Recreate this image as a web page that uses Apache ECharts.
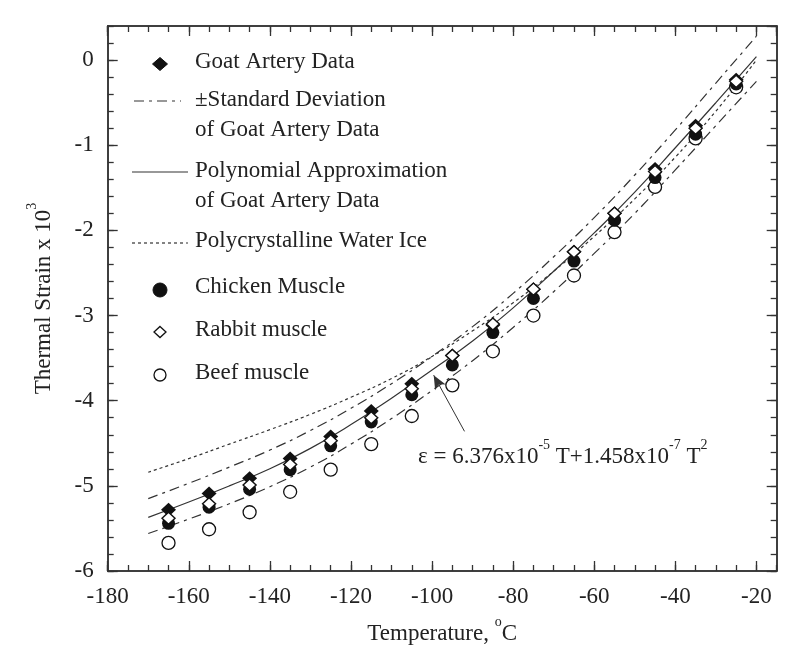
<!DOCTYPE html>
<html>
<head>
<meta charset="utf-8">
<script src="https://cdn.jsdelivr.net/npm/echarts@6/dist/echarts.min.js"></script>
<style>
html,body{margin:0;padding:0;background:#fff;}
#chart{width:800px;height:664px;}
</style>
</head>
<body>
<div id="chart"></div>
<script>
// Measured temperatures (°C)
const temps = [-165,-155,-145,-135,-125,-115,-105,-95,-85,-75,-65,-55,-45,-35,-25];
// Thermal strain x 10^3
const goat    = [-5.28,-5.09,-4.91,-4.68,-4.42,-4.12,-3.80,-3.47,-3.11,-2.69,-2.25,-1.80,-1.28,-0.77,-0.23];
const chicken = [-5.44,-5.25,-5.04,-4.81,-4.53,-4.25,-3.93,-3.58,-3.20,-2.80,-2.36,-1.88,-1.38,-0.87,-0.28];
const rabbit  = [-5.38,-5.21,-4.99,-4.75,-4.47,-4.20,-3.86,-3.47,-3.10,-2.69,-2.25,-1.80,-1.31,-0.80,-0.25];
const beef    = [-5.67,-5.51,-5.31,-5.07,-4.81,-4.51,-4.18,-3.82,-3.42,-3.00,-2.53,-2.02,-1.49,-0.92,-0.32];

// Curves, read at 10 °C steps
const curveT  = [-170,-160,-150,-140,-130,-120,-110,-100,-90,-80,-70,-60,-50,-40,-30,-20];
const poly    = [-5.37,-5.19,-5.00,-4.80,-4.56,-4.28,-3.97,-3.64,-3.30,-2.91,-2.48,-2.03,-1.55,-1.03,-0.50,0.04];
const sdUpper = [-5.15,-4.97,-4.78,-4.58,-4.35,-4.09,-3.80,-3.48,-3.13,-2.74,-2.31,-1.85,-1.35,-0.82,-0.27,0.28];
const sdLower = [-5.56,-5.39,-5.21,-5.01,-4.78,-4.51,-4.21,-3.88,-3.53,-3.14,-2.72,-2.27,-1.80,-1.29,-0.77,-0.25];
const ice     = [-4.84,-4.68,-4.51,-4.34,-4.16,-3.96,-3.74,-3.48,-3.18,-2.85,-2.48,-2.07,-1.63,-1.14,-0.60,0.00];

const xMin = -180, xMax = -15, yMin = -6, yMax = 0.4;

const pair = (xs, ys) => xs.map((x, i) => [x, ys[i]]);

const FONT = 'Liberation Serif';
const TXT = '#222';
const INK = '#111';
const LINE = '#333';
const FS = 23;

const axisLine = {show: true, onZero: false, lineStyle: {color: LINE, width: 1.5}};

function xAx(pos, major) {
  return {
    type: 'value', position: pos, min: xMin, max: xMax,
    interval: major ? 20 : 5,
    axisLine: axisLine,
    axisTick: {show: true, inside: true, length: major ? 10 : 6, lineStyle: {color: LINE, width: 1.3}},
    axisLabel: {show: pos === 'bottom' && major, showMaxLabel: false, margin: 14,
      fontFamily: FONT, fontSize: FS, color: TXT},
    splitLine: {show: false},
    name: (pos === 'bottom' && major) ? '{a|Temperature, }{s|o}{a|C}' : '',
    nameLocation: 'middle', nameGap: 44,
    nameTextStyle: {rich: {
      a: {fontFamily: FONT, fontSize: FS, color: TXT, verticalAlign: 'bottom', lineHeight: 30},
      s: {fontFamily: FONT, fontSize: 14, color: TXT, verticalAlign: 'top', lineHeight: 30}
    }}
  };
}
function yAx(pos, major) {
  return {
    type: 'value', position: pos, min: yMin, max: yMax,
    interval: major ? 1 : 0.2,
    axisLine: axisLine,
    axisTick: {show: true, inside: true, length: major ? 10 : 6, lineStyle: {color: LINE, width: 1.3}},
    axisLabel: {show: pos === 'left' && major, showMaxLabel: false, margin: 14,
      fontFamily: FONT, fontSize: FS, color: TXT},
    splitLine: {show: false},
    name: (pos === 'left' && major) ? '{a|Thermal Strain x 10}{s|3}' : '',
    nameLocation: 'middle', nameGap: 52,
    nameTextStyle: {rich: {
      a: {fontFamily: FONT, fontSize: FS, color: TXT, verticalAlign: 'bottom', lineHeight: 30},
      s: {fontFamily: FONT, fontSize: 14, color: TXT, verticalAlign: 'top', lineHeight: 30}
    }}
  };
}

const lineSeries = (name, data, type, extra) => Object.assign({
  name: name, type: 'line', data: pair(curveT, data), smooth: true,
  showSymbol: false, symbol: 'none', silent: true, z: 2,
  lineStyle: {color: LINE, width: 1.2, type: type}
}, extra || {});

const chart = echarts.init(document.getElementById('chart'), null, {renderer: 'canvas'});

const legendX = 160, textX = 195;
const lg = [];
function lgText(y, s) {
  lg.push({type: 'text', left: textX, top: y - 14, style: {text: s, fontFamily: FONT, fontSize: FS, fill: TXT}});
}
function lgDiamond(y, w, h, filled) {
  lg.push({type: 'polygon', shape: {points: [[legendX, y - h/2],[legendX + w/2, y],[legendX, y + h/2],[legendX - w/2, y]]},
    style: {fill: filled ? INK : '#fff', stroke: INK, lineWidth: filled ? 1 : 1.3}});
}
function lgCircle(y, r, filled) {
  lg.push({type: 'circle', shape: {cx: legendX, cy: y, r: r},
    style: {fill: filled ? INK : '#fff', stroke: INK, lineWidth: filled ? 1 : 1.3}});
}
function lgLine(y, x1, x2, dash) {
  lg.push({type: 'line', shape: {x1: x1, y1: y, x2: x2, y2: y},
    style: {stroke: LINE, lineWidth: 1.2, lineDash: dash}});
}
lgDiamond(64, 15, 13, true);        lgText(64, 'Goat Artery Data');
lgLine(101, 134, 181, [10,5,3,5]);   lgText(102, '\u00b1Standard Deviation');
lgText(132, 'of Goat Artery Data');
lgLine(172, 132, 188, null);         lgText(173, 'Polynomial Approximation');
lgText(203, 'of Goat Artery Data');
lgLine(243, 132, 188, [3,3]);        lgText(243, 'Polycrystalline Water Ice');
lgCircle(290, 7, true);              lgText(289, 'Chicken Muscle');
lgDiamond(332, 12, 11, false);       lgText(332, 'Rabbit muscle');
lgCircle(375, 6, false);             lgText(375, 'Beef muscle');

// Annotation text
lg.push({type: 'text', left: 418, top: 438, style: {
  text: '{a|\u03b5 = 6.376x10}{s|-5}{a| T+1.458x10}{s|-7}{a| T}{s|2}',
  rich: {
    a: {fontFamily: FONT, fontSize: FS, fill: TXT, verticalAlign: 'bottom', lineHeight: 30},
    s: {fontFamily: FONT, fontSize: 14, fill: TXT, verticalAlign: 'top', lineHeight: 30}
  }
}});

chart.setOption({
  backgroundColor: '#fff',
  animation: false,
  grid: {left: 107.7, right: 23.3, top: 26, bottom: 93, containLabel: false},
  xAxis: [xAx('bottom', true), xAx('bottom', false), xAx('top', true), xAx('top', false)],
  yAxis: [yAx('left', true), yAx('left', false), yAx('right', true), yAx('right', false)],
  graphic: lg,
  series: [
    lineSeries('Polycrystalline Water Ice', ice, [3,3]),
    lineSeries('+Standard Deviation', sdUpper, [10,5,3,5]),
    lineSeries('-Standard Deviation', sdLower, [10,5,3,5]),
    lineSeries('Polynomial Approximation', poly, 'solid', {
      markLine: {
        silent: true, symbol: ['none', 'arrow'], symbolSize: [9, 14],
        label: {show: false},
        lineStyle: {color: LINE, width: 1, type: 'solid', opacity: 1},
        data: [[{coord: [-92, -4.36]}, {coord: [-99.6, -3.70]}]]
      }
    }),
    {name: 'Beef muscle', type: 'scatter', data: pair(temps, beef), symbol: 'circle', symbolSize: 13, z: 3,
      itemStyle: {color: '#fff', borderColor: INK, borderWidth: 1.3, opacity: 1}},
    {name: 'Chicken Muscle', type: 'scatter', data: pair(temps, chicken), symbol: 'circle', symbolSize: 13, z: 4,
      itemStyle: {color: INK, opacity: 1}},
    {name: 'Goat Artery Data', type: 'scatter', data: pair(temps, goat), symbol: 'diamond', symbolSize: [15, 14], z: 5,
      itemStyle: {color: INK, opacity: 1}},
    {name: 'Rabbit muscle', type: 'scatter', data: pair(temps, rabbit), symbol: 'diamond', symbolSize: [13, 12], z: 6,
      itemStyle: {color: '#fff', borderColor: INK, borderWidth: 1.4, opacity: 1}}
  ]
});
</script>
</body>
</html>
